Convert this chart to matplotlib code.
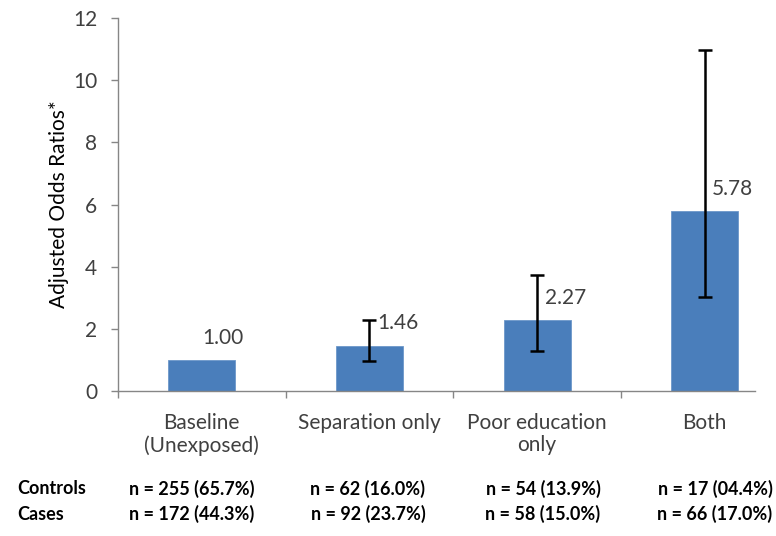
import matplotlib.pyplot as plt

# odds ratios with 95% CI per exposure group
groups = ["Baseline\n(Unexposed)", "Separation only", "Poor education\nonly", "Both"]
odds = [1.00, 1.46, 2.27, 5.78]
ci_low = [None, 0.97, 1.30, 3.01]
ci_high = [None, 2.28, 3.72, 10.98]

controls = ["n = 255 (65.7%)", "n = 62 (16.0%)", "n = 54 (13.9%)", "n = 17 (04.4%)"]
cases = ["n = 172 (44.3%)", "n = 92 (23.7%)", "n = 58 (15.0%)", "n = 66 (17.0%)"]

plt.rcParams['font.family'] = ['Lato', 'DejaVu Sans']
grey = "#404040"
axis_col = "#868686"

fig = plt.figure(figsize=(7.76, 5.36), dpi=100)
ax = fig.add_axes([0.152, 0.2705, 0.821, 0.6959])

x = list(range(len(groups)))
ax.bar(x, odds, width=0.40, color="#4A7EBB", edgecolor="#6D97C9", linewidth=0.6, zorder=2)

# error bars only where a CI exists
for i in x:
    if ci_low[i] is None:
        continue
    ax.errorbar(i, odds[i], yerr=[[odds[i] - ci_low[i]], [ci_high[i] - odds[i]]],
                fmt="none", ecolor="black", elinewidth=1.8, capsize=5, capthick=1.8, zorder=3)

for i, v in enumerate(odds):
    dx = 0.0 if ci_low[i] is None else 0.045
    ax.text(i + dx, v + 0.72, f"{v:.2f}", ha="left", va="center", fontsize=15, color=grey)

ax.set_ylim(0, 12)
ax.set_xlim(-0.5, 3.30)
ax.set_yticks(range(0, 13, 2))
ax.tick_params(axis="y", labelsize=15, labelcolor=grey, color=axis_col, length=5, width=1, pad=10)
ax.set_ylabel("Adjusted Odds Ratios*", fontsize=15, color="black", labelpad=3)

# category boundaries get the ticks, names sit under the bars
ax.set_xticks([-0.5, 0.5, 1.5, 2.5])
ax.set_xticklabels([])
ax.tick_params(axis="x", color=axis_col, length=5, width=1)
for i, g in enumerate(groups):
    ax.text(i, -0.72, g, ha="center", va="top", fontsize=15, color=grey,
            transform=ax.transData, linespacing=1.1)

for side in ["top", "right"]:
    ax.spines[side].set_visible(False)
for side in ["left", "bottom"]:
    ax.spines[side].set_color(axis_col)
    ax.spines[side].set_linewidth(1)

# counts table under the chart
col_x = [192, 368, 543, 715]
for row, (label, vals) in zip([489, 514], [("Controls", controls), ("Cases", cases)]):
    fig.text(17 / 776, 1 - row / 536, label, ha="left", va="center",
             fontsize=13, fontweight="bold", color="black")
    for cx, t in zip(col_x, vals):
        fig.text(cx / 776, 1 - row / 536, t, ha="center", va="center",
                 fontsize=13, fontweight="bold", color="black")

fig.savefig("out.png", dpi=100)
